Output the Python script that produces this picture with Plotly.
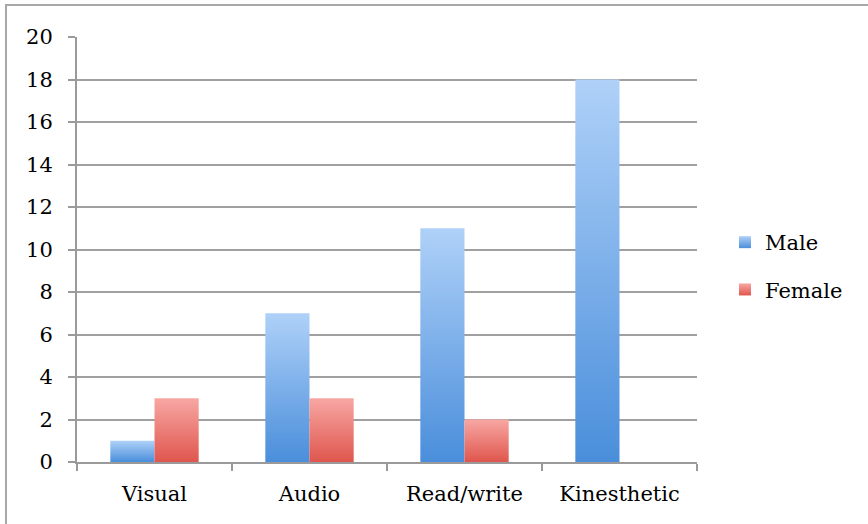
import plotly.graph_objects as go

categories = ["Visual", "Audio", "Read/write", "Kinesthetic"]
male = [1, 7, 11, 18]
female = [3, 3, 2, 0]
y_ticks = [0, 2, 4, 6, 8, 10, 12, 14, 16, 18, 20]

FONT = "DejaVu Serif"
FS = 21

fig = go.Figure()
fig.add_trace(go.Bar(name="Male", x=categories, y=male, legendgroup="m",
                     marker=dict(color="#6ea7e8", line=dict(width=0))))
fig.add_trace(go.Bar(name="Female", x=categories, y=female, legendgroup="f",
                     marker=dict(color="#ec7f79", line=dict(width=0))))

L, R, T, B = 77, 171, 37, 62
W, H = 868, 524
pw, ph = W - L - R, H - T - B

def px_x(p):
    return (p - L) / pw

def px_y(p):
    return (H - B - p) / ph

fig.update_layout(
    width=W, height=H,
    margin=dict(l=L, r=R, t=T, b=B, pad=0),
    paper_bgcolor="white", plot_bgcolor="white",
    barmode="group", bargap=0.43, bargroupgap=0,
    font=dict(family=FONT, size=FS, color="black"),
    showlegend=True,
    legend=dict(x=px_x(725), y=px_y(266), xanchor="left", yanchor="middle",
                font=dict(family=FONT, size=FS), itemwidth=30, tracegroupgap=17,
                traceorder="grouped", bgcolor="rgba(0,0,0,0)"),
    xaxis=dict(type="category", showgrid=False, showline=True, linecolor="#9a9a9a", linewidth=2,
               ticks="outside", tickson="boundaries", ticklen=7, tickwidth=2, tickcolor="#9a9a9a",
               ticklabelstandoff=12,
               tickfont=dict(family=FONT, size=FS), fixedrange=True),
    yaxis=dict(range=[0, 20], tickvals=y_ticks, showgrid=True, gridcolor="#a0a0a0", gridwidth=2,
               showline=True, linecolor="#9a9a9a", linewidth=2, zeroline=False,
               ticks="outside", ticklen=7, tickwidth=2, tickcolor="#9a9a9a",
               ticklabelstandoff=11,
               tickfont=dict(family=FONT, size=FS), fixedrange=True),
    shapes=[dict(type="rect", xref="paper", yref="paper",
                 x0=px_x(6), x1=px_x(880), y0=px_y(536), y1=px_y(5),
                 line=dict(color="#a8a8a8", width=2), fillcolor="rgba(0,0,0,0)", layer="below")],
)

post = """
var gd = document.getElementById('{plot_id}');
function applyGrad(){
  var svg = gd.querySelector('svg.main-svg');
  if(!svg) return;
  var ns = 'http://www.w3.org/2000/svg';
  var defs = svg.querySelector('defs');
  if(!defs){ defs = document.createElementNS(ns,'defs'); svg.insertBefore(defs, svg.firstChild); }
  var cols = [['#afd1f8','#4a8edb'],['#f8a7a3','#df564d']];
  cols.forEach(function(c,i){
    if(document.getElementById('bgrad'+i)) return;
    var g = document.createElementNS(ns,'linearGradient');
    g.setAttribute('id','bgrad'+i); g.setAttribute('x1','0'); g.setAttribute('y1','0');
    g.setAttribute('x2','0'); g.setAttribute('y2','1');
    var s1 = document.createElementNS(ns,'stop'); s1.setAttribute('offset','0'); s1.setAttribute('stop-color',c[0]);
    var s2 = document.createElementNS(ns,'stop'); s2.setAttribute('offset','1'); s2.setAttribute('stop-color',c[1]);
    g.appendChild(s1); g.appendChild(s2); defs.appendChild(g);
  });
  var traces = gd.querySelectorAll('.barlayer .trace');
  traces.forEach(function(t,i){
    t.querySelectorAll('path').forEach(function(p){ p.style.fill = 'url(#bgrad'+i+')'; });
  });
  var lt = gd.querySelectorAll('.legend .traces');
  lt.forEach(function(t,i){
    t.querySelectorAll('.legendpoints path').forEach(function(p){ p.style.fill = 'url(#bgrad'+i+')'; });
  });
}
applyGrad();
gd.on && gd.on('plotly_afterplot', applyGrad);
"""

fig.write_html("out.html", config={"staticPlot": True}, post_script=post)
